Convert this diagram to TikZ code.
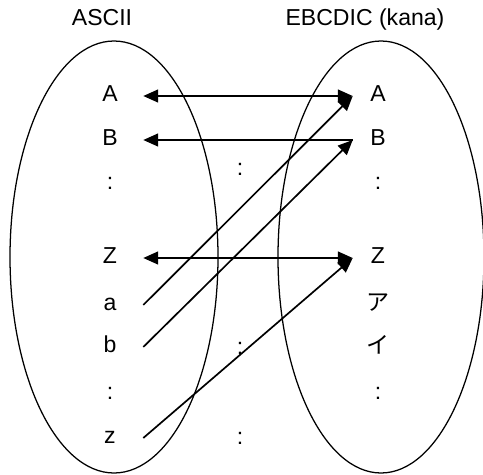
\documentclass[tikz,border=0pt]{standalone}
\usepackage{fontspec}
\setmainfont{Liberation Sans}
\newfontfamily\jpfont{Noto Sans CJK JP}
\usetikzlibrary{arrows.meta}

\begin{document}
\begin{tikzpicture}[x=0.025cm,y=-0.025cm,
  every node/.style={font=\fontsize{16.4}{19}\selectfont,
    text height=0.72em,text depth=0pt,inner sep=0pt},
  lchar/.style={minimum width=1.65cm},
  rchar/.style={minimum width=1.25cm},
  setline/.style={line width=0.9pt},
  map/.style={line width=1.2pt,>={Triangle[length=3.7mm,width=3.2mm]}}]
  \useasboundingbox (0,0) rectangle (483,475);

  % the two code sets
  \draw[setline] (114,257) ellipse [x radius=104,y radius=216];
  \draw[setline] (381,257) ellipse [x radius=103,y radius=216];
  \node (asc) at (102,20) {ASCII};
  \node (ebc) at (365,20) {EBCDIC (kana)};

  % left column
  \node[lchar] (lA) at (110,96) {A};
  \node[lchar] (lB) at (110,140) {B};
  \node[lchar] (ld1) at (110,184) {:};
  \node[lchar] (lZ) at (110,258) {Z};
  \node[lchar] (la) at (110,305) {a};
  \node[lchar] (lb) at (110,347) {b};
  \node[lchar] (ld2) at (110,394) {:};
  \node[lchar] (lz) at (110,438) {z};

  % right column
  \node[rchar] (rA) at (378,96) {A};
  \node[rchar] (rB) at (378,140) {B};
  \node[rchar] (rd1) at (378,184) {:};
  \node[rchar] (rZ) at (378,258) {Z};
  \node[rchar] (rka) at (378,305) {\jpfont ア};
  \node[rchar] (rki) at (378,348) {\jpfont イ};
  \node[rchar] (rd2) at (378,394) {:};

  % dots between the sets
  \node (m1) at (240,170) {:};
  \node (m2) at (240,349) {:};
  \node (m3) at (240,439) {:};

  % mappings
  \draw[map,<->] (lA.east) -- (rA.west);
  \draw[map,->] (rB.west) -- (lB.east);
  \draw[map,<->] (lZ.east) -- (rZ.west);
  \draw[map,->] (la.east) -- (rA.west);
  \draw[map,->] (lb.east) -- (rB.west);
  \draw[map,->] (lz.east) -- (rZ.west);
\end{tikzpicture}
\end{document}
